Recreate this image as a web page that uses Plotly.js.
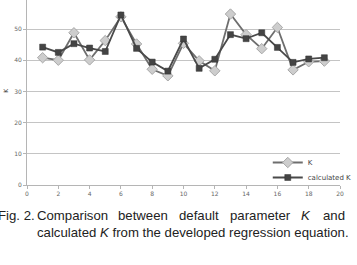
<!DOCTYPE html>
<html>
<head>
<meta charset="utf-8">
<script src="https://cdn.plot.ly/plotly-3.0.1.min.js"></script>
<style>html,body{margin:0;padding:0;background:#fff;}#chart{width:357px;height:265px;}</style>
</head>
<body>
<div id="chart"></div>
<script>
const xs = [1,2,3,4,5,6,7,8,9,10,11,12,13,14,15,16,17,18,19];
const kDefault = [40.8,40.0,48.8,40.1,46.3,53.9,45.2,37.1,35.0,45.4,39.8,36.6,54.8,48.2,43.7,50.5,36.9,39.5,39.7];
const kCalc = [44.2,42.5,45.3,43.9,42.8,54.5,43.8,39.4,36.5,46.8,37.4,40.3,48.2,46.9,48.8,44.1,39.3,40.4,40.8];
const xTicks = [0,2,4,6,8,10,12,14,16,18,20];
const yTicks = [0,10,20,30,40,50];

const L = 27, W = 325, T = 0, H = 185;
function px(x){return (x-L)/W;}
function py(y){return (T+H-y)/H;}

const traces = [
  {x: xs, y: kDefault, name: 'K', mode: 'lines+markers', type: 'scatter', legend: 'legend',
   line: {color: '#6e6e6e', width: 1.8},
   marker: {symbol: 'diamond', size: 8, color: '#cdcdcd', line: {color: '#a8a8a8', width: 1}}},
  {x: xs, y: kCalc, name: 'calculated K', mode: 'lines+markers', type: 'scatter', legend: 'legend2',
   line: {color: '#4a4a4a', width: 1.8},
   marker: {symbol: 'square', size: 6, color: '#444444', line: {color: '#333', width: 0.5}}}
];

const capFont = {family: 'Liberation Sans, Arial, sans-serif', size: 13.2, color: '#222'};
const line1 = [
  ['Fig. 2.', -5, 'left'], ['Comparison', 35, 'left'], ['between', 119, 'left'],
  ['default', 182.5, 'left'], ['parameter', 235.5, 'left'], ['<i>K</i>', 309, 'left'], ['and', 359, 'right']
];
const anns = line1.map(w => ({
  text: w[0], xref: 'paper', yref: 'paper', x: px(w[1]), y: py(215), xanchor: w[2], yanchor: 'middle',
  showarrow: false, font: capFont
}));
anns.push({text: 'calculated <i>K</i> from the developed regression equation.', xref: 'paper', yref: 'paper',
  x: px(35), y: py(232), xanchor: 'left', yanchor: 'middle', showarrow: false, font: capFont});
anns.push({text: 'K', xref: 'paper', yref: 'paper', x: px(4), y: py(90), xanchor: 'center', yanchor: 'middle',
  showarrow: false, textangle: -90, font: {family: 'DejaVu Sans, sans-serif', size: 6, color: '#333'}});

const legFont = {family: 'DejaVu Sans, sans-serif', size: 7, color: '#444'};
const layout = {
  width: 357, height: 265,
  margin: {l: L, r: 357 - L - W, t: T, b: 265 - T - H, pad: 0},
  paper_bgcolor: '#fff', plot_bgcolor: '#fff',
  showlegend: true,
  legend: {x: px(277), y: py(148), xanchor: 'left', yanchor: 'top', bgcolor: 'rgba(0,0,0,0)',
    font: legFont, itemwidth: 30},
  legend2: {x: px(277), y: py(163), xanchor: 'left', yanchor: 'top', bgcolor: 'rgba(0,0,0,0)',
    font: legFont, itemwidth: 30},
  xaxis: {range: [0, 20], tickvals: xTicks, ticktext: xTicks.map(String), showgrid: false, zeroline: false,
    showline: true, linecolor: '#b5b5b5', linewidth: 1, ticks: 'outside', ticklen: 3, tickcolor: '#b5b5b5',
    tickfont: {family: 'DejaVu Sans, sans-serif', size: 6, color: '#666'}},
  yaxis: {range: [0, 59.3], tickvals: yTicks, ticktext: yTicks.map(String), showgrid: true, gridcolor: '#c4c4c4', gridwidth: 1,
    zeroline: false, showline: true, linecolor: '#b5b5b5', linewidth: 1, ticks: 'outside', ticklen: 3, tickcolor: '#b5b5b5',
    tickfont: {family: 'DejaVu Sans, sans-serif', size: 6, color: '#666'}},
  annotations: anns
};
Plotly.newPlot('chart', traces, layout, {displayModeBar: false, staticPlot: true});
</script>
</body>
</html>
